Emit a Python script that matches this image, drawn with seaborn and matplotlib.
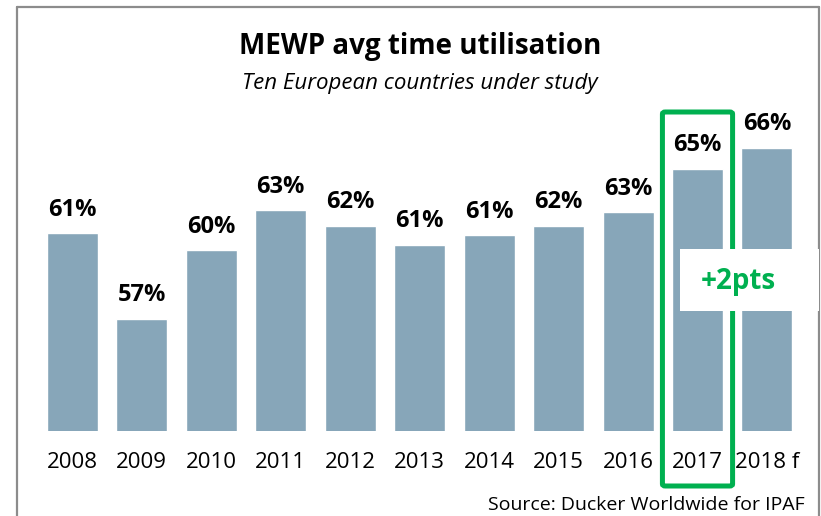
import numpy as np
import pandas as pd
import matplotlib
matplotlib.use("Agg")
import matplotlib.pyplot as plt
import matplotlib.transforms as mtransforms
from matplotlib.patches import FancyBboxPatch, Rectangle
from matplotlib.lines import Line2D
import seaborn as sns

# data
years = ["2008", "2009", "2010", "2011", "2012", "2013", "2014", "2015", "2016", "2017", "2018 f"]
utilisation = [61.4, 56.9, 60.5, 62.6, 61.8, 60.8, 61.3, 61.8, 62.5, 64.8, 65.9]
value_labels = ["61%", "57%", "60%", "63%", "62%", "61%", "61%", "62%", "63%", "65%", "66%"]
highlight_year = "2017"
highlight_text = "+2pts"

bar_color = "#87A6B9"
green = "#00B050"
frame_gray = "#8C8C8C"

sns.set_theme(style="white")
plt.rcParams["font.family"] = ["Open Sans", "DejaVu Sans"]

df = pd.DataFrame({"year": years, "util": utilisation})

W, H = 821, 516
fig = plt.figure(figsize=(W / 100, H / 100), dpi=100)
fig.patch.set_facecolor("white")

# axes placed so bars line up with the reference
ax = fig.add_axes([37.6 / W, (H - 430.7) / H, 764.1 / W, 361.0 / H])
sns.barplot(data=df, x="year", y="util", color=bar_color, width=0.735,
            saturation=1, ax=ax, zorder=2)
ax.set_ylim(51, 70)
ax.set_xlim(-0.5, len(years) - 0.5)
ax.set_xlabel("")
ax.set_ylabel("")
ax.set_yticks([])
for s in ax.spines.values():
    s.set_visible(False)
ax.tick_params(axis="x", length=0, pad=15.5, labelsize=16, labelcolor="black")
ax.set_facecolor("none")

# value labels
for i, (v, lab) in enumerate(zip(utilisation, value_labels)):
    ax.annotate(lab, (i, v), xytext=(0, 12.5), textcoords="offset points",
                ha="center", va="baseline", fontsize=17, fontweight="bold",
                color="black", zorder=5)

# titles
fig.text(420 / W, 1 - 47 / H, "MEWP avg time utilisation", ha="center", va="center",
         fontsize=20, fontweight="bold", color="black")
fig.text(420 / W, 1 - 83 / H, "Ten European countries under study", ha="center",
         va="center", fontsize=16, style="italic", color="black")
fig.text(805 / W, 1 - 505 / H, "Source: Ducker Worldwide for IPAF", ha="right",
         va="center", fontsize=14, color="black")

# outer frame (open at the bottom)
fig.add_artist(Line2D([17 / W, 17 / W], [1 - 7 / H, 0], color=frame_gray, lw=1.6))
fig.add_artist(Line2D([17 / W, 819 / W], [1 - 7 / H, 1 - 7 / H], color=frame_gray, lw=1.6))
fig.add_artist(Line2D([819 / W, 819 / W], [1 - 7 / H, 0], color=frame_gray, lw=1.6))

# green highlight box around 2017
hi = years.index(highlight_year)
trans = mtransforms.blended_transform_factory(ax.transData, fig.transFigure)
box = FancyBboxPatch((hi - 0.505, 1 - 486 / H), 1.01, (486 - 112) / H,
                     boxstyle="round,pad=0,rounding_size=0.04", transform=trans,
                     fill=False, edgecolor=green, linewidth=3.6, zorder=6,
                     clip_on=False, mutation_aspect=0.1)
fig.add_artist(box)

# white label box with the change
wbox = Rectangle((hi - 0.25, 1 - 311 / H), 2.0, 62 / H, transform=trans,
                 facecolor="white", edgecolor="none", zorder=7, clip_on=False)
fig.add_artist(wbox)
fig.text(738 / W, 1 - 282 / H, highlight_text, ha="center", va="center",
         fontsize=20, fontweight="bold", color=green, zorder=8)

fig.savefig("out.png", dpi=100, facecolor="white")
